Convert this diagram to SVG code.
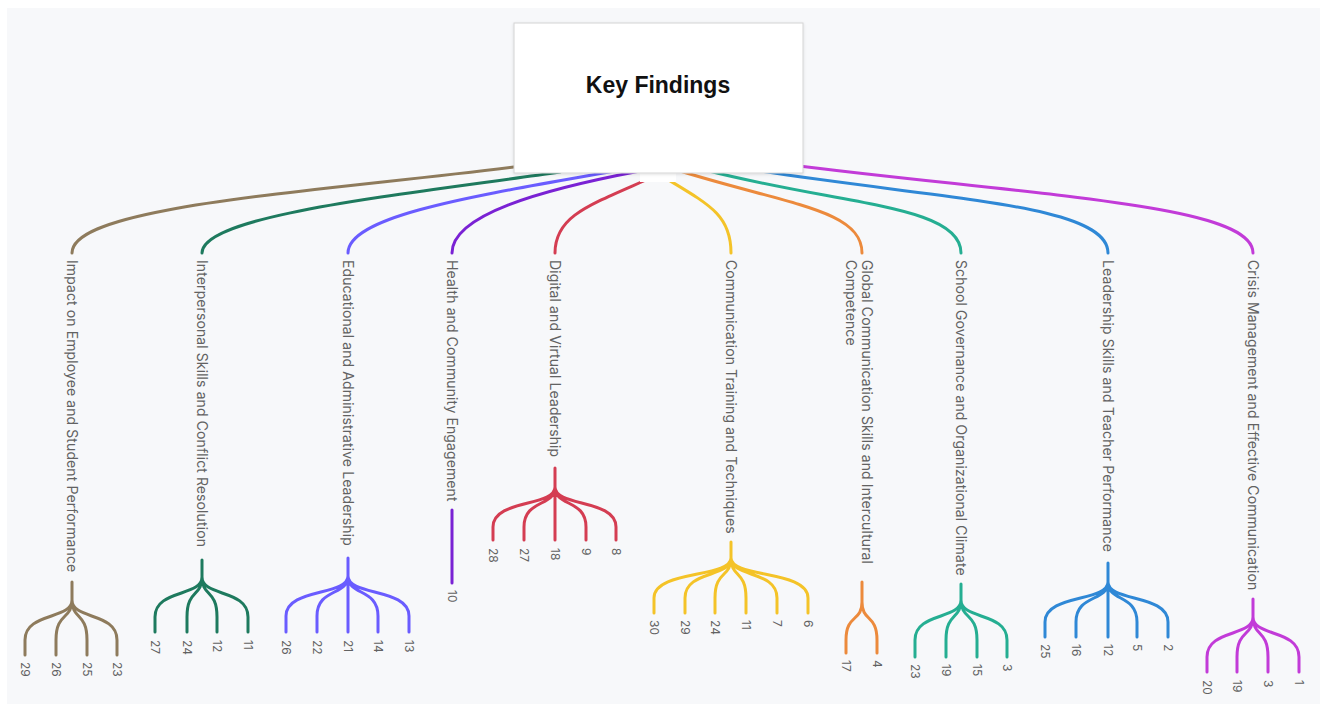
<svg xmlns="http://www.w3.org/2000/svg" width="1325" height="706" viewBox="0 0 1325 706">
<style>
.ln{fill:none;stroke-width:3;stroke-linecap:round}
.br{stroke:#8e7b5c}.gr{stroke:#1e7a5e}.vi{stroke:#6a5cff}.pu{stroke:#7a22d4}.rd{stroke:#d43d52}
.ye{stroke:#f4c328}.or{stroke:#ec8a3c}.te{stroke:#25ae92}.bl{stroke:#2f88d6}.mg{stroke:#c23bd8}
.lbl{font-family:Inter,"Noto Sans",sans-serif;font-size:14px;letter-spacing:0.1px;fill:#626262;dominant-baseline:central}
.num{font-family:Inter,"Noto Sans",sans-serif;font-size:12px;fill:#626262;dominant-baseline:central}
.title{font-family:"Liberation Sans",Arial,sans-serif;font-size:23px;font-weight:bold;fill:#111;text-anchor:middle}
</style>
<defs>
<filter id="sh" x="-10%" y="-10%" width="120%" height="130%">
<feDropShadow dx="0" dy="1" stdDeviation="1.5" flood-color="#000" flood-opacity="0.12"/>
</filter>
</defs>
<rect x="0" y="0" width="1325" height="706" fill="#ffffff"/>
<rect x="7" y="8" width="1313" height="696" fill="#f7f8fa"/>

<g id="connectors">
<path class="ln br" d="M530,165 C320,192 72,205 72,253"/>
<path class="ln gr" d="M560,172 C400,195 202,215 202,253"/>
<path class="ln vi" d="M615,171 C480,195 348,215 348,253"/>
<path class="ln pu" d="M640,171 C540,190 452,215 452,253"/>
<path class="ln rd" d="M655,176 C590,205 555,215 555,253"/>
<path class="ln ye" d="M662,176 C710,205 731,215 731,253"/>
<path class="ln or" d="M680,171 C790,205 862,210 862,253"/>
<path class="ln te" d="M705,170 C840,205 961,205 961,253"/>
<path class="ln bl" d="M760,171 C950,200 1108,205 1108,253"/>
<path class="ln mg" d="M790,165 C1050,197 1253,205 1253,253"/>
</g>

<g id="root">
<rect x="640" y="168" width="36" height="14" fill="#ffffff"/>
<rect x="514" y="23" width="289" height="150" fill="#ffffff" stroke="#d4d4d4" stroke-width="1" filter="url(#sh)"/>
<text class="title" x="658" y="93">Key Findings</text>
</g>

<g id="b1">
<text class="lbl" transform="translate(72,260) rotate(90)">Impact on Employee and Student Performance</text>
<path class="ln br" d="M72,582 L72,600 M72,600 C72,620 25,612 25,640 L25,655 M72,600 C72,620 56,612 56,640 L56,655 M72,600 C72,620 87,612 87,640 L87,655 M72,600 C72,620 117,612 117,640 L117,655"/>
<text class="num" transform="translate(25,662) rotate(90)">29</text>
<text class="num" transform="translate(56,662) rotate(90)">26</text>
<text class="num" transform="translate(87,662) rotate(90)">25</text>
<text class="num" transform="translate(117,662) rotate(90)">23</text>
</g>

<g id="b2">
<text class="lbl" transform="translate(202,260) rotate(90)">Interpersonal Skills and Conflict Resolution</text>
<path class="ln gr" d="M202,560 L202,577 M202,577 C202,597 155,589 155,617 L155,632 M202,577 C202,597 187,589 187,617 L187,632 M202,577 C202,597 217,589 217,617 L217,632 M202,577 C202,597 248,589 248,617 L248,632"/>
<text class="num" transform="translate(155,640) rotate(90)">27</text>
<text class="num" transform="translate(187,640) rotate(90)">24</text>
<text class="num" transform="translate(217,640) rotate(90)">12</text>
<text class="num" transform="translate(248,640) rotate(90)">11</text>
</g>

<g id="b3">
<text class="lbl" transform="translate(348,260) rotate(90)">Educational and Administrative Leadership</text>
<path class="ln vi" d="M348,558 L348,632 M348,576 C348,596 286,588 286,616 L286,632 M348,576 C348,596 317,588 317,616 L317,632 M348,576 C348,596 378,588 378,616 L378,632 M348,576 C348,596 409,588 409,616 L409,632"/>
<text class="num" transform="translate(286,640) rotate(90)">26</text>
<text class="num" transform="translate(317,640) rotate(90)">22</text>
<text class="num" transform="translate(348,640) rotate(90)">21</text>
<text class="num" transform="translate(378,640) rotate(90)">14</text>
<text class="num" transform="translate(409,640) rotate(90)">13</text>
</g>

<g id="b4">
<text class="lbl" transform="translate(452,260) rotate(90)">Health and Community Engagement</text>
<path class="ln pu" d="M452,510 L452,583"/>
<text class="num" transform="translate(452,590) rotate(90)">10</text>
</g>

<g id="b5">
<text class="lbl" transform="translate(555,260) rotate(90)">Digital and Virtual Leadership</text>
<path class="ln rd" d="M555,468 L555,540 M555,487 C555,507 493,499 493,527 L493,540 M555,487 C555,507 524,499 524,527 L524,540 M555,487 C555,507 586,499 586,527 L586,540 M555,487 C555,507 616,499 616,527 L616,540"/>
<text class="num" transform="translate(493,548) rotate(90)">28</text>
<text class="num" transform="translate(524,548) rotate(90)">27</text>
<text class="num" transform="translate(555,548) rotate(90)">18</text>
<text class="num" transform="translate(586,548) rotate(90)">9</text>
<text class="num" transform="translate(616,548) rotate(90)">8</text>
</g>

<g id="b6">
<text class="lbl" transform="translate(731,260) rotate(90)">Communication Training and Techniques</text>
<path class="ln ye" d="M731,542 L731,558 M731,558 C731,578 654,570 654,598 L654,613 M731,558 C731,578 685,570 685,598 L685,613 M731,558 C731,578 715,570 715,598 L715,613 M731,558 C731,578 746,570 746,598 L746,613 M731,558 C731,578 777,570 777,598 L777,613 M731,558 C731,578 808,570 808,598 L808,613"/>
<text class="num" transform="translate(654,620) rotate(90)">30</text>
<text class="num" transform="translate(685,620) rotate(90)">29</text>
<text class="num" transform="translate(715,620) rotate(90)">24</text>
<text class="num" transform="translate(746,620) rotate(90)">11</text>
<text class="num" transform="translate(777,620) rotate(90)">7</text>
<text class="num" transform="translate(808,620) rotate(90)">6</text>
</g>

<g id="b7">
<text class="lbl" transform="translate(868,260) rotate(90)"><tspan x="0" y="0">Global Communication Skills and Intercultural</tspan><tspan x="0" y="16">Competence</tspan></text>
<path class="ln or" d="M862,582 L862,602 M862,602 C862,622 846,614 846,640 L846,653 M862,602 C862,622 877,614 877,640 L877,653"/>
<text class="num" transform="translate(846,660) rotate(90)">17</text>
<text class="num" transform="translate(877,660) rotate(90)">4</text>
</g>

<g id="b8">
<text class="lbl" transform="translate(961,260) rotate(90)">School Governance and Organizational Climate</text>
<path class="ln te" d="M961,584 L961,600 M961,600 C961,620 915,612 915,640 L915,657 M961,600 C961,620 946,612 946,640 L946,657 M961,600 C961,620 977,612 977,640 L977,657 M961,600 C961,620 1007,612 1007,640 L1007,657"/>
<text class="num" transform="translate(915,664) rotate(90)">23</text>
<text class="num" transform="translate(946,664) rotate(90)">19</text>
<text class="num" transform="translate(977,664) rotate(90)">15</text>
<text class="num" transform="translate(1007,664) rotate(90)">3</text>
</g>

<g id="b9">
<text class="lbl" transform="translate(1108,260) rotate(90)">Leadership Skills and Teacher Performance</text>
<path class="ln bl" d="M1108,563 L1108,637 M1108,582 C1108,602 1045,594 1045,622 L1045,637 M1108,582 C1108,602 1076,594 1076,622 L1076,637 M1108,582 C1108,602 1137,594 1137,622 L1137,637 M1108,582 C1108,602 1168,594 1168,622 L1168,637"/>
<text class="num" transform="translate(1045,644) rotate(90)">25</text>
<text class="num" transform="translate(1076,644) rotate(90)">16</text>
<text class="num" transform="translate(1108,644) rotate(90)">12</text>
<text class="num" transform="translate(1137,644) rotate(90)">5</text>
<text class="num" transform="translate(1168,644) rotate(90)">2</text>
</g>

<g id="b10">
<text class="lbl" transform="translate(1253,260) rotate(90)">Crisis Management and Effective Communication</text>
<path class="ln mg" d="M1253,599 L1253,617 M1253,617 C1253,637 1207,629 1207,657 L1207,672 M1253,617 C1253,637 1237,629 1237,657 L1237,672 M1253,617 C1253,637 1268,629 1268,657 L1268,672 M1253,617 C1253,637 1299,629 1299,657 L1299,672"/>
<text class="num" transform="translate(1207,680) rotate(90)">20</text>
<text class="num" transform="translate(1237,680) rotate(90)">19</text>
<text class="num" transform="translate(1268,680) rotate(90)">3</text>
<text class="num" transform="translate(1299,680) rotate(90)">1</text>
</g>
</svg>
